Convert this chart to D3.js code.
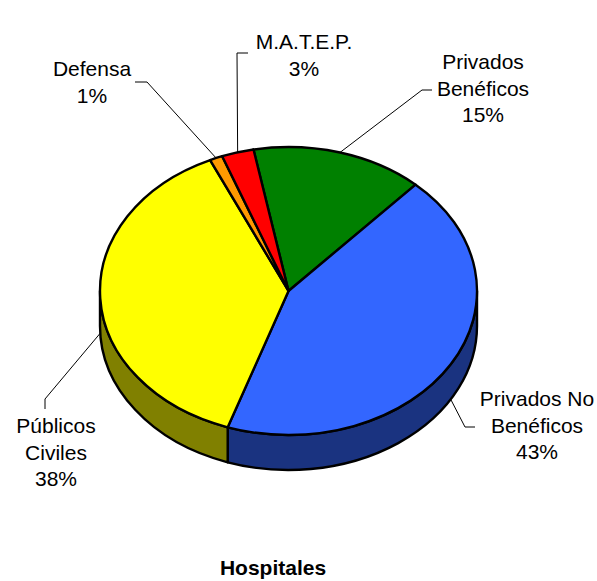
<!DOCTYPE html>
<html>
<head>
<meta charset="utf-8">
<script src="https://cdn.jsdelivr.net/npm/d3@7"></script>
<style>
  html, body { margin: 0; padding: 0; background: #fff; }
  svg { display: block; }
</style>
</head>
<body>
<script>
// ---- data ----
const categories = ["Privados Benéficos", "Privados No Benéficos", "Públicos Civiles", "Defensa", "M.A.T.E.P."];
const labelLines = [["Privados", "Benéficos"], ["Privados No", "Benéficos"], ["Públicos", "Civiles"], ["Defensa"], ["M.A.T.E.P."]];
const values = [14.75, 43.45, 37.95, 1.1, 2.75];
const colors = ["#008000", "#3366FF", "#FFFF00", "#FF9900", "#FF0000"];
const sideColors = ["#004000", "#1A3380", "#808000", "#804C00", "#800000"];
const title = "Hospitales";

// ---- layout ----
const W = 597, H = 581;
const cx = 288.5, cy = 291, rx = 188.5, ry = 144, depth = 35;
const startDeg = -10.7;
// label layout: center x, first baseline y, leader end (at label) and elbow
const labelLayout = {
  "Privados Benéficos":    { x: 483, y: 69,  end: [432, 90],  elbow: [422, 90] },
  "Privados No Benéficos": { x: 537, y: 406, end: [475, 427], elbow: [465, 427] },
  "Públicos Civiles":      { x: 56,  y: 433, end: [45, 409],  elbow: [45, 399] },
  "Defensa":               { x: 92,  y: 76,  end: [135, 82],  elbow: [147, 82] },
  "M.A.T.E.P.":            { x: 304, y: 49,  end: [248, 53],  elbow: [237, 53] }
};
const lineH = 26.5;
const font = "'Liberation Sans', Arial, Helvetica, sans-serif";

const svg = d3.select("body").append("svg").attr("width", W).attr("height", H);

const data = categories.map((c, i) => ({ name: c, value: values[i], color: colors[i], side: sideColors[i], lines: labelLines[i] }));
const total = d3.sum(values);
const start = startDeg * Math.PI / 180;
const pie = d3.pie().value(d => d.value).sort(null).startAngle(start).endAngle(start + 2 * Math.PI);
const arcs = pie(data);

const P = (t, dy = 0) => [cx + rx * Math.sin(t), cy - ry * Math.cos(t) + dy];
const fmt = p => p[0].toFixed(2) + "," + p[1].toFixed(2);

// side walls (front half: angles between PI/2 and 3PI/2)
const sideG = svg.append("g");
arcs.forEach(a => {
  const s0 = Math.max(a.startAngle, Math.PI / 2);
  const s1 = Math.min(a.endAngle, 3 * Math.PI / 2);
  if (s1 <= s0) return;
  const large = (s1 - s0) > Math.PI ? 1 : 0;
  const d = "M" + fmt(P(s0)) +
    " A" + rx + "," + ry + " 0 " + large + " 1 " + fmt(P(s1)) +
    " L" + fmt(P(s1, depth)) +
    " A" + rx + "," + ry + " 0 " + large + " 0 " + fmt(P(s0, depth)) + " Z";
  sideG.append("path").attr("d", d)
    .attr("fill", a.data.side).attr("stroke", "#000").attr("stroke-width", 2.4).attr("stroke-linejoin", "round");
});

// top faces
const topG = svg.append("g");
arcs.forEach(a => {
  const large = (a.endAngle - a.startAngle) > Math.PI ? 1 : 0;
  const d = "M" + cx + "," + cy + " L" + fmt(P(a.startAngle)) +
    " A" + rx + "," + ry + " 0 " + large + " 1 " + fmt(P(a.endAngle)) + " Z";
  topG.append("path").attr("d", d)
    .attr("fill", a.data.color).attr("stroke", "#000").attr("stroke-width", 2.4).attr("stroke-linejoin", "round");
});

// leader lines and labels
const labG = svg.append("g");
arcs.forEach(a => {
  const mid = (a.startAngle + a.endAngle) / 2;
  const front = Math.cos(mid) < 0;
  const anchor = P(mid, front ? depth : 0);
  const L = labelLayout[a.data.name];
  labG.append("polyline")
    .attr("points", [L.end, L.elbow, anchor].map(fmt).join(" "))
    .attr("fill", "none").attr("stroke", "#000").attr("stroke-width", 1);
  const pct = Math.round(a.data.value / total * 100) + "%";
  const lines = a.data.lines.concat([pct]);
  const t = labG.append("text")
    .attr("font-family", font).attr("font-size", 21).attr("fill", "#000")
    .attr("text-anchor", "middle");
  lines.forEach((ln, i) => {
    t.append("tspan").attr("x", L.x).attr("y", L.y + i * lineH).text(ln);
  });
});

svg.append("text")
  .attr("x", 273).attr("y", 575)
  .attr("text-anchor", "middle")
  .attr("font-family", font).attr("font-size", 21).attr("font-weight", "bold")
  .text(title);
</script>
</body>
</html>
